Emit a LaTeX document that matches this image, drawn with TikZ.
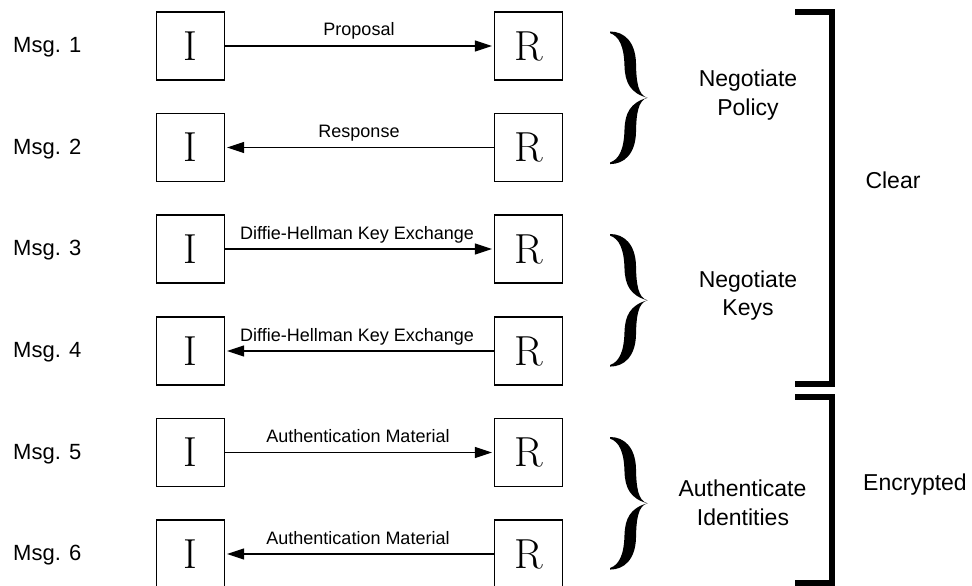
\documentclass[tikz,border=0pt]{standalone}
\usepackage{fontspec}
\newfontfamily\sansf{Liberation Sans}
\usetikzlibrary{arrows.meta}
\newcommand\mybrace[3]{%
  \fill[shift={(#1,#2)}] (0,0) .. controls (14,0) and (25.5,10) .. (26,32)
    .. controls (26.3,50) and (28,64) .. (37.5,66.3)
    .. controls (28,68.6) and (26.3,82.6) .. (26,100.6)
    .. controls (25.5,122.6) and (14,132.6) .. (0,132.6) -- (0,131)
    .. controls (9,128) and (14,118) .. (14.5,98)
    .. controls (15,82) and (20,71) .. (37.5,66.3)
    .. controls (20,61.6) and (15,50.6) .. (14.5,34.6)
    .. controls (14,14.6) and (9,4.6) .. (0,1.6) -- cycle;
  \coordinate (#3) at (#1+37.5,#2+66.3);}
\begin{document}
\begin{tikzpicture}[x=1pt,y=-1pt,
  box/.style={draw, line width=1.3pt, minimum width=68pt, minimum height=68pt, inner sep=0pt,
    font=\fontsize{42}{42}\selectfont},
  msg/.style={line width=1.3pt, -{Triangle[length=17pt,width=11pt]}, shorten >=2pt},
  lbl/.style={anchor=base, inner sep=0pt, font=\sansf\fontsize{18}{18}\selectfont},
  side/.style={anchor=base west, inner sep=0pt, font=\sansf\fontsize{22}{22}\selectfont},
  grp/.style={anchor=base, inner sep=0pt, font=\sansf\fontsize{23}{23}\selectfont},
  bracket/.style={line width=6pt, miter limit=10}]
\useasboundingbox (0,0) rectangle (972,586);
% rows
\foreach \k/\y in {1/46,2/147.5,3/249,4/351,5/452.5,6/554}{
  \node[box] (I\k) at (190.5,\y) {I};
  \node[box] (R\k) at (528.5,\y) {R};
  \node[side] (M\k) at (13,\y+6.5) {Msg. \k};
}
% arrows
\draw[msg] (I1.east) -- (R1.west);
\draw[msg] (R2.west) -- (I2.east);
\draw[msg] (I3.east) -- (R3.west);
\draw[msg] (R4.west) -- (I4.east);
\draw[msg] (I5.east) -- (R5.west);
\draw[msg] (R6.west) -- (I6.east);
% arrow labels
\node[lbl] (L1) at (359,46-10) {Proposal};
\node[lbl] (L2) at (359,147.5-10) {Response};
\node[lbl] (L3) at (357,249-10) {Diffie-Hellman Key Exchange};
\node[lbl] (L4) at (357,351-10) {Diffie-Hellman Key Exchange};
\node[lbl] (L5) at (358,452.5-10) {Authentication Material};
\node[lbl] (L6) at (358,554-10) {Authentication Material};
% braces
\mybrace{610}{31.5}{B1}
\mybrace{610}{234}{B2}
\mybrace{610}{437}{B3}
% group labels
\node[grp] (G1a) at (748,86) {Negotiate};
\node[grp] (G1b) at (748,115) {Policy};
\node[grp] (G2a) at (748,287) {Negotiate};
\node[grp] (G2b) at (748,315) {Keys};
\node[grp] (G3a) at (742.5,496.5) {Authenticate};
\node[grp] (G3b) at (743,525) {Identities};
% brackets
\draw[bracket] (795,12) -- (832,12) -- (832,383.5) -- (795,383.5);
\draw[bracket] (795,397) -- (832,397) -- (832,583) -- (795,583);
\node[grp] (C1) at (893,188) {Clear};
\node[grp] (C2) at (915,490.5) {Encrypted};
\end{tikzpicture}
\end{document}
